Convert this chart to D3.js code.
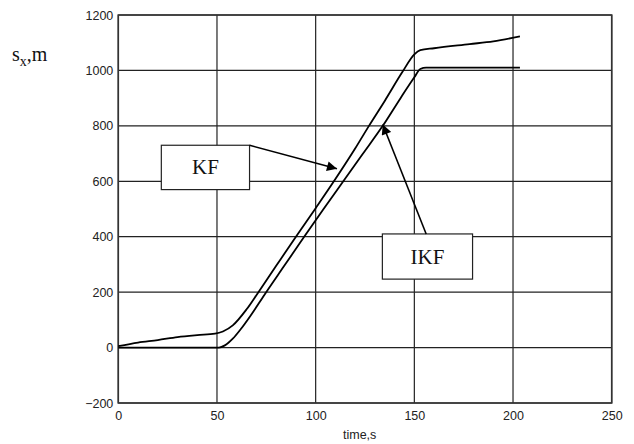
<!DOCTYPE html>
<html><head><meta charset="utf-8">
<script src="https://cdn.jsdelivr.net/npm/d3@7"></script>
<style>body{margin:0;background:#fff}svg{display:block}</style>
</head><body><svg id="c" width="634" height="444"></svg>
<script>
const xTicks = [0, 50, 100, 150, 200, 250];
const yTicks = [-200, 0, 200, 400, 600, 800, 1000, 1200];
const kfT = [0,10,20,30,40,49,53,58,65,71,80,90,100,110,120,127,135,144,150,153,160,178,190,203.5];
const kfV = [5,18,27,38,45,50,58,80,138,200,295,400,503,608,718,800,890,995,1058,1073,1080,1095,1105,1123];
const ikfT = [0,51,54,58,62,67,74,84,94,104,114,124,134,143,150,153,156,203.5];
const ikfV = [0,0,8,32,66,115,190,294,398,500,600,700,800,900,975,1005,1010,1010];
const labels = ["KF", "IKF"];

const svg = d3.select("#c");
const x = d3.scaleLinear().domain([0,250]).range([118.3,611.7]);
const y = d3.scaleLinear().domain([-200,1200]).range([403,15]);

const defs = svg.append("defs");
defs.append("marker").attr("id","ah").attr("viewBox","0 0 10 10").attr("refX",10).attr("refY",5)
  .attr("markerWidth",12).attr("markerHeight",10).attr("markerUnits","userSpaceOnUse").attr("orient","auto")
  .append("path").attr("d","M0,0 L10,5 L0,10 Z").attr("fill","#000");

// grid
const g = svg.append("g");
g.selectAll(".vx").data(xTicks).join("line").attr("x1",d=>x(d)).attr("x2",d=>x(d)).attr("y1",y(1200)).attr("y2",y(-200)).attr("stroke","#222").attr("stroke-width",1.2);
g.selectAll(".hy").data(yTicks).join("line").attr("y1",d=>y(d)).attr("y2",d=>y(d)).attr("x1",x(0)).attr("x2",x(250)).attr("stroke","#222").attr("stroke-width",1.2);
g.append("rect").attr("x",x(0)).attr("y",y(1200)).attr("width",x(250)-x(0)).attr("height",y(-200)-y(1200)).attr("fill","none").attr("stroke","#333").attr("stroke-width",1.6);

// tick labels via d3 axes
const fmt = d3.format("d");
const ax = svg.append("g").attr("transform",`translate(0,${y(-200)})`).call(d3.axisBottom(x).tickValues(xTicks).tickFormat(fmt).tickSize(0).tickPadding(8));
const ay = svg.append("g").attr("transform",`translate(${x(0)},0)`).call(d3.axisLeft(y).tickValues(yTicks).tickFormat(fmt).tickSize(0).tickPadding(5));
[ax,ay].forEach(a=>{a.select(".domain").remove();a.selectAll("text").attr("font-family","Liberation Sans, Arial, sans-serif").attr("font-size",12.5).attr("fill","#222");});

// curves
const line = d3.line().x(d=>x(d[0])).y(d=>y(d[1])).curve(d3.curveMonotoneX);
svg.append("path").datum(kfT.map((t,i)=>[t,kfV[i]])).attr("d",line).attr("fill","none").attr("stroke","#000").attr("stroke-width",1.8);
svg.append("path").datum(ikfT.map((t,i)=>[t,ikfV[i]])).attr("d",line).attr("fill","none").attr("stroke","#000").attr("stroke-width",1.8);

function box(x0,y0,x1,y1,text){
  svg.append("rect").attr("x",x0).attr("y",y0).attr("width",x1-x0).attr("height",y1-y0).attr("fill","#fff").attr("stroke","#222").attr("stroke-width",1.2);
  svg.append("text").attr("x",(x0+x1)/2).attr("y",(y0+y1)/2+7).attr("text-anchor","middle").attr("font-family","Liberation Serif, Times New Roman, serif").attr("font-size",21).attr("fill","#111").text(text);
}
// KF box and arrow (anchored in data space)
const kfBox = [x(21.8), y(730), x(66.5), y(570)];
box(kfBox[0],kfBox[1],kfBox[2],kfBox[3],labels[0]);
svg.append("line").attr("x1",kfBox[2]).attr("y1",kfBox[1]).attr("x2",x(110.8)).attr("y2",y(645)).attr("stroke","#000").attr("stroke-width",1.6).attr("marker-end","url(#ah)");
const ikfBox = [x(133.8), y(410), x(179.5), y(247)];
box(ikfBox[0],ikfBox[1],ikfBox[2],ikfBox[3],labels[1]);
svg.append("line").attr("x1",x(156)).attr("y1",ikfBox[1]).attr("x2",x(134)).attr("y2",y(805)).attr("stroke","#000").attr("stroke-width",1.6).attr("marker-end","url(#ah)");

// axis titles
const yt = svg.append("text").attr("x",12).attr("y",61).attr("font-family","Liberation Serif, Times New Roman, serif").attr("font-size",20).attr("fill","#111");
yt.append("tspan").text("s");
yt.append("tspan").attr("font-size",14).attr("dy",5).text("x");
yt.append("tspan").attr("dy",-5).text(",m");
svg.append("text").attr("x",343).attr("y",439).attr("font-family","Liberation Sans, Arial, sans-serif").attr("font-size",12.5).attr("fill","#222").text("time,s");
</script></body></html>
